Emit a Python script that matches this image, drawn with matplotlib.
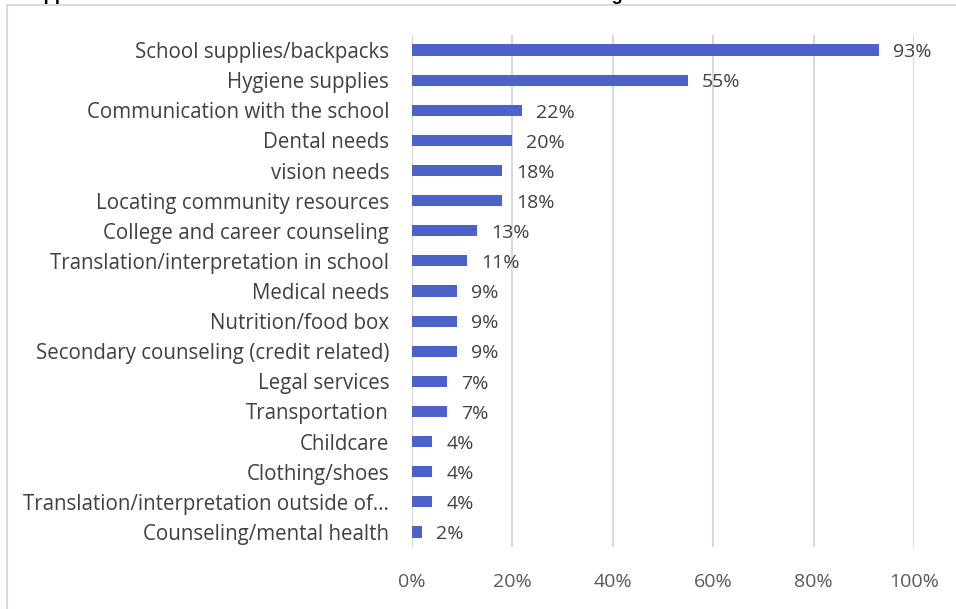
import matplotlib.pyplot as plt
from matplotlib.patches import Rectangle

categories = [
    "School supplies/backpacks",
    "Hygiene supplies",
    "Communication with the school",
    "Dental needs",
    "vision needs",
    "Locating community resources",
    "College and career counseling",
    "Translation/interpretation in school",
    "Medical needs",
    "Nutrition/food box",
    "Secondary counseling (credit related)",
    "Legal services",
    "Transportation",
    "Childcare",
    "Clothing/shoes",
    "Translation/interpretation outside of\u2026",
    "Counseling/mental health",
]
values = [93, 55, 22, 20, 18, 18, 13, 11, 9, 9, 9, 7, 7, 4, 4, 4, 2]
x_ticks = [0, 20, 40, 60, 80, 100]
x_tick_labels = ["0%", "20%", "40%", "60%", "80%", "100%"]
title = "Support Services Most Often Needed and Offered to Students at Registration"

plt.rcParams["font.family"] = ["Open Sans", "DejaVu Sans"]

W, H = 956, 609
fig = plt.figure(figsize=(W / 100, H / 100), dpi=100)
fig.patch.set_facecolor("white")

# chart area border
fig.patches.append(Rectangle((7 / W, -0.01), 1.0, 1 - 5 / H + 0.01,
                             transform=fig.transFigure, fill=False,
                             edgecolor="#d9d9d9", linewidth=1.5))

# title sits mostly above the visible area
fig.text(20 / W, 1 + 0.5 / H, title, fontsize=13.3, fontweight="bold",
         color="black", ha="left", va="baseline",
         family=["Liberation Sans", "DejaVu Sans"])

ax = fig.add_axes([412 / W, 1 - 547 / H, (914 - 412) / W, (547 - 35) / H])
y = list(range(len(categories)))
ax.barh(y, values, height=0.37, color="#4C62C8", zorder=3)
ax.set_ylim(len(categories) - 0.5, -0.5)
ax.set_xlim(0, 100)

for yi, v in zip(y, values):
    ax.text(v + 2.8, yi + 0.24, f"{v}%", va="baseline", ha="left",
            fontsize=14, color="#404040")

ax.set_yticks(y)
ax.set_yticklabels(categories, fontsize=14.8, color="#404040")
ax.set_xticks(x_ticks)
ax.set_xticklabels(x_tick_labels, fontsize=14, color="#595959")
ax.tick_params(axis="both", length=0)
ax.tick_params(axis="y", pad=16.5)
ax.tick_params(axis="x", pad=19)
ax.xaxis.grid(True, color="#d9d9d9", linewidth=1.5, zorder=0)
for s in ax.spines.values():
    s.set_visible(False)

fig.savefig("out.png", dpi=100, facecolor="white")
